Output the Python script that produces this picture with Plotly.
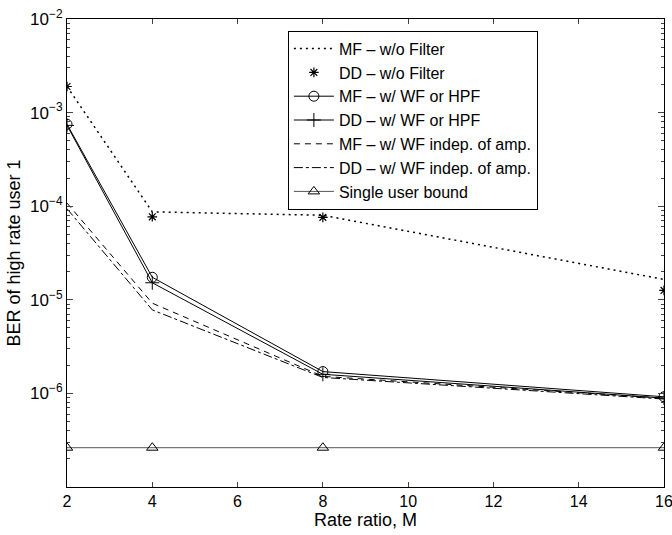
import plotly.graph_objects as go

M = [2, 4, 8, 16]
mf_wo = [1.9e-3, 8.7e-5, 8.0e-5, 1.65e-5]
dd_wo = [1.9e-3, 7.7e-5, 7.6e-5, 1.26e-5]
mf_wf = [7.5e-4, 1.74e-5, 1.71e-6, 9.2e-7]
dd_wf = [7.3e-4, 1.52e-5, 1.60e-6, 8.9e-7]
mf_ind = [1.08e-4, 9.2e-6, 1.52e-6, 8.9e-7]
dd_ind = [9.4e-5, 7.8e-6, 1.48e-6, 8.7e-7]
single = [2.63e-7, 2.63e-7, 2.63e-7, 2.63e-7]

names = ["MF – w/o Filter", "DD – w/o Filter", "MF – w/ WF or HPF", "DD – w/ WF or HPF",
         "MF – w/ WF indep. of amp.", "DD – w/ WF indep. of amp.", "Single user bound"]

y_tickvals = [1e-6, 1e-5, 1e-4, 1e-3, 1e-2]
y_ticktext = ["10<sup>−6</sup>", "10<sup>−5</sup>", "10<sup>−4</sup>", "10<sup>−3</sup>", "10<sup>−2</sup>"]
x_tickvals = [2, 4, 6, 8, 10, 12, 14, 16]

fig = go.Figure()
fig.add_trace(go.Scatter(x=M, y=mf_wo, name=names[0], mode="lines",
                         line=dict(color="black", width=1.5, dash="2px,4px")))
fig.add_trace(go.Scatter(x=M, y=dd_wo, name=names[1], mode="markers",
                         marker=dict(symbol="asterisk-open", size=8, color="black",
                                     line=dict(width=1.2, color="black"))))
fig.add_trace(go.Scatter(x=M, y=mf_wf, name=names[2], mode="lines+markers",
                         line=dict(color="black", width=1),
                         marker=dict(symbol="circle-open", size=10, color="black",
                                     line=dict(width=1, color="black"))))
fig.add_trace(go.Scatter(x=M, y=dd_wf, name=names[3], mode="lines+markers",
                         line=dict(color="black", width=1),
                         marker=dict(symbol="cross-thin-open", size=10, color="black",
                                     line=dict(width=1, color="black"))))
fig.add_trace(go.Scatter(x=M, y=mf_ind, name=names[4], mode="lines",
                         line=dict(color="black", width=1, dash="6px,5px")))
fig.add_trace(go.Scatter(x=M, y=dd_ind, name=names[5], mode="lines",
                         line=dict(color="black", width=1, dash="dashdot")))
fig.add_trace(go.Scatter(x=M, y=single, name=names[6], mode="lines+markers",
                         line=dict(color="#555555", width=1),
                         marker=dict(symbol="triangle-up-open", size=10, color="black",
                                     line=dict(width=1, color="black"))))

fig.update_layout(
    width=672, height=535,
    margin=dict(l=67, r=8, t=19, b=48),
    paper_bgcolor="white", plot_bgcolor="white",
    font=dict(family="Liberation Sans, Arial, sans-serif", size=15, color="black"),
    legend=dict(x=0.37, y=0.975, xanchor="left", yanchor="top",
                bgcolor="white", bordercolor="black", borderwidth=1,
                font=dict(size=16), tracegroupgap=0, itemwidth=40),
    showlegend=True,
)
fig.update_xaxes(range=[2, 16], tickvals=x_tickvals, automargin=False,
                 ticks="inside", ticklen=5, showline=True, linecolor="black",
                 linewidth=1, mirror="ticks", showgrid=False, zeroline=False,
                 ticklabeloverflow="allow",
                 title=dict(text="Rate ratio, M", standoff=4),
                 tickfont=dict(size=16))
fig.update_yaxes(type="log", range=[-7, -2], tickvals=y_tickvals, ticktext=y_ticktext,
                 automargin=False,
                 ticks="inside", ticklen=6, showline=True, linecolor="black",
                 linewidth=1, mirror="ticks", showgrid=False, zeroline=False,
                 ticklabeloverflow="allow",
                 minor=dict(ticks="inside", ticklen=3, dtick="D1", showgrid=False),
                 title=dict(text="BER of high rate user 1", standoff=4),
                 tickfont=dict(size=17))

fig.write_html("out.html")
